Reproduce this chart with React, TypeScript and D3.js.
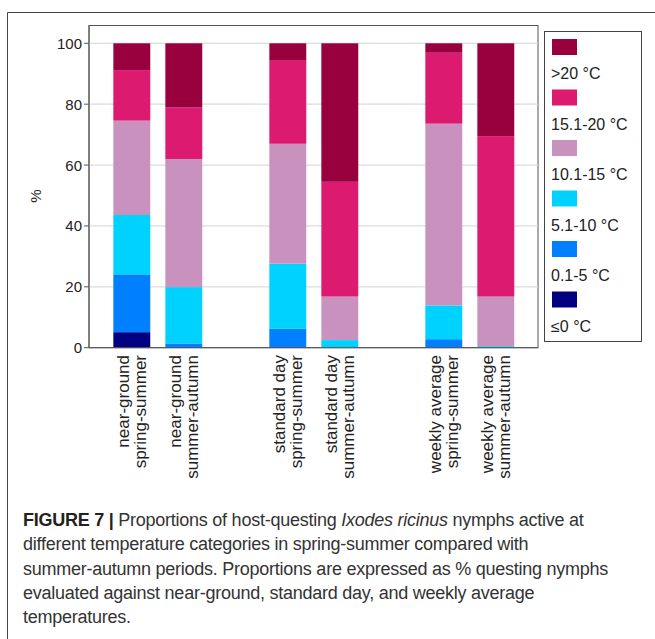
import { useRef, useEffect } from 'react';
import * as d3 from 'd3';

const bars = [
    ['near-ground', 'spring-summer'],
    ['near-ground', 'summer-autumn'],
    ['standard day', 'spring-summer'],
    ['standard day', 'summer-autumn'],
    ['weekly average', 'spring-summer'],
    ['weekly average', 'summer-autumn'],
];
// slot index on the x band (blank slots separate groups)
const slots = [0, 1, 3, 4, 6, 7];

const categories = ['≤0 °C', '0.1-5 °C', '5.1-10 °C', '10.1-15 °C', '15.1-20 °C', '>20 °C'];
const colors = ['#000080', '#0080ff', '#00d2ff', '#c891be', '#dc1a70', '#98003e'];

// percentages per bar, bottom to top
const le0 = [5.1, 0, 0, 0, 0, 0];
const t0to5 = [19.0, 1.4, 6.2, 0, 2.8, 0];
const t5to10 = [19.5, 18.5, 21.4, 2.5, 11.1, 0.5];
const t10to15 = [31.0, 42.1, 39.4, 14.3, 59.7, 16.3];
const t15to20 = [16.6, 16.9, 27.5, 37.7, 23.3, 52.7];
const gt20 = [8.8, 21.1, 5.5, 45.5, 3.1, 30.5];
const series = [le0, t0to5, t5to10, t10to15, t15to20, gt20];

const yTicks = [0, 20, 40, 60, 80, 100];

const captionLines = [
    'Proportions of host-questing |Ixodes ricinus| nymphs active at',
    'different temperature categories in spring-summer compared with',
    'summer-autumn periods. Proportions are expressed as % questing nymphs',
    'evaluated against near-ground, standard day, and weekly average',
    'temperatures.',
];

export default function App() {
    const svgRef = useRef<SVGSVGElement>(null);

    useEffect(() => {
        if (!svgRef.current) return;
        const svg = d3.select(svgRef.current);
        svg.selectAll('*').remove();
        const font = 'Liberation Sans, Arial, sans-serif';

        // outer figure frame
        svg.append('path').attr('d', 'M7.5,639 V12.5 H655').attr('fill', 'none').attr('stroke', '#444').attr('stroke-width', 1);

        const plot = { left: 89, right: 538, top: 25.5, y0: 347.7, y100: 43.3 };
        const y = d3.scaleLinear().domain([0, 100]).range([plot.y0, plot.y100]);
        const x = d3.scaleBand<number>().domain(d3.range(8)).range([105.8, 521.8]).paddingInner(0.29).paddingOuter(0.145);

        // plot frame
        svg.append('rect').attr('x', plot.left).attr('y', plot.top).attr('width', plot.right - plot.left)
            .attr('height', plot.y0 - plot.top).attr('fill', 'white').attr('stroke', '#555');

        // grid
        yTicks.filter(t => t > 0).forEach(t => {
            svg.append('line').attr('x1', plot.left).attr('x2', plot.right).attr('y1', y(t)).attr('y2', y(t))
                .attr('stroke', '#dcdcdc').attr('stroke-width', 1.3);
        });

        // bars
        bars.forEach((_, i) => {
            let acc = 0;
            series.forEach((s, k) => {
                const v = s[i];
                if (v > 0) {
                    svg.append('rect').attr('x', x(slots[i])!).attr('width', x.bandwidth())
                        .attr('y', y(acc + v)).attr('height', y(acc) - y(acc + v)).attr('fill', colors[k]);
                }
                acc += v;
            });
        });

        // axes lines
        svg.append('line').attr('x1', plot.left).attr('x2', plot.left).attr('y1', plot.top).attr('y2', plot.y0).attr('stroke', '#555');
        svg.append('line').attr('x1', plot.left).attr('x2', plot.right).attr('y1', plot.y0).attr('y2', plot.y0).attr('stroke', '#555');

        yTicks.forEach(t => {
            svg.append('line').attr('x1', plot.left - 5).attr('x2', plot.left).attr('y1', y(t)).attr('y2', y(t)).attr('stroke', '#555');
            svg.append('text').attr('x', plot.left - 7).attr('y', y(t) + 5.5).attr('text-anchor', 'end')
                .attr('font-family', font).attr('font-size', 15).attr('fill', '#222').text(t);
        });
        svg.append('text').attr('transform', 'translate(41,196) rotate(-90)').attr('text-anchor', 'middle')
            .attr('font-family', font).attr('font-size', 15).attr('fill', '#222').text('%');

        // x labels
        bars.forEach((lines, i) => {
            const cx = x(slots[i])! + x.bandwidth() / 2;
            const t = svg.append('text').attr('transform', `translate(${cx},355) rotate(-90)`)
                .attr('text-anchor', 'end').attr('font-family', font).attr('font-size', 17).attr('fill', '#222');
            t.append('tspan').attr('x', 0).attr('y', -3).text(lines[0]);
            t.append('tspan').attr('x', 0).attr('y', 14).text(lines[1]);
        });

        // legend
        svg.append('rect').attr('x', 544.5).attr('y', 31.5).attr('width', 97).attr('height', 310).attr('fill', 'white').attr('stroke', '#444');
        [...categories].reverse().forEach((c, i) => {
            const ci = categories.length - 1 - i;
            const top = 39 + i * 50.5;
            svg.append('rect').attr('x', 552).attr('y', top).attr('width', 25).attr('height', 16).attr('fill', colors[ci]);
            svg.append('text').attr('x', 551).attr('y', top + 40).attr('font-family', font).attr('font-size', 16)
                .attr('fill', '#222').text(c);
        });

        // caption
        const cap = svg.append('g').attr('font-family', font)
            .attr('font-size', 18).attr('letter-spacing', -0.25).attr('fill', '#333');
        captionLines.forEach((line, i) => {
            const t = cap.append('text').attr('x', 23).attr('y', 526 + i * 24.3);
            if (i === 0) t.append('tspan').attr('font-weight', 'bold').attr('fill', '#222').text('FIGURE 7 | ');
            line.split('|').forEach((part, j) => {
                t.append('tspan').attr('font-style', j % 2 ? 'italic' : 'normal').text(part);
            });
        });
    }, []);

    return (
        <div style={{ position: 'absolute', left: 0, top: 0 }}>
            <svg ref={svgRef} width={655} height={639} style={{ display: 'block', background: 'white' }} />
        </div>
    );
}
